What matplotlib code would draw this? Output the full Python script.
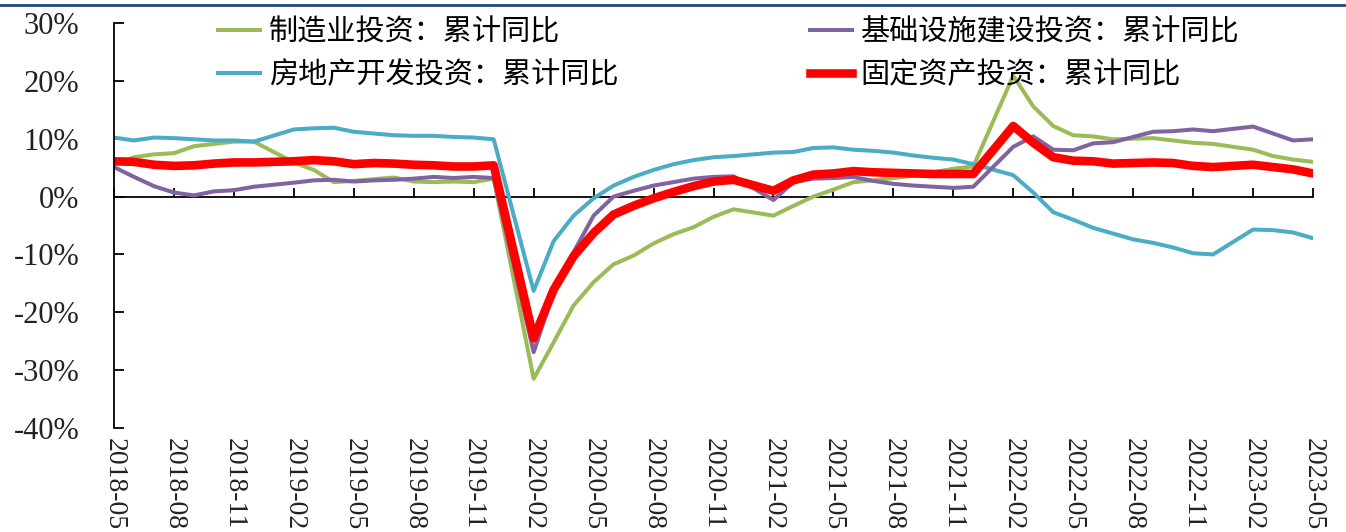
import matplotlib
matplotlib.use("Agg")
import matplotlib.pyplot as plt
from matplotlib.lines import Line2D
from matplotlib.ticker import FuncFormatter
import pandas as pd

# Monthly cumulative YoY growth (%), Jan is merged into Feb so it is skipped
START = pd.Period("2018-05", freq="M")
END = pd.Period("2023-05", freq="M")
months = [p for p in pd.period_range(START, END, freq="M") if p.month != 1]

manufacturing = [
    5.6, 6.8, 7.3, 7.5, 8.7, 9.1, 9.5, 9.5,
    5.9, 4.6, 2.5, 2.7, 3.0, 3.3, 2.6, 2.5, 2.6, 2.5, 3.1,
    -31.5, -25.2, -18.8, -14.8, -11.7, -10.2, -8.1, -6.5, -5.3, -3.5, -2.2,
    -3.3, -1.6, 0.0, 1.2, 2.5, 2.8, 3.2, 3.6, 4.2, 4.8, 5.2,
    20.9, 15.6, 12.2, 10.6, 10.4, 9.9, 10.0, 10.1, 9.7, 9.3, 9.1,
    8.1, 7.0, 6.4, 6.0,
]
infrastructure = [
    5.1, 3.4, 1.8, 0.7, 0.2, 0.9, 1.1, 1.7,
    2.4, 2.8, 2.9, 2.6, 2.8, 2.9, 3.1, 3.4, 3.2, 3.4, 3.2,
    -26.9, -16.5, -9.6, -3.3, 0.0, 1.0, 1.9, 2.5, 3.1, 3.4, 3.5,
    -0.6, 2.5, 3.1, 3.2, 3.4, 2.7, 2.2, 1.9, 1.7, 1.5, 1.7,
    8.6, 10.4, 8.1, 8.0, 9.2, 9.4, 10.3, 11.2, 11.3, 11.6, 11.3,
    12.1, 10.9, 9.7, 9.9,
]
real_estate = [
    10.2, 9.7, 10.2, 10.1, 9.9, 9.7, 9.7, 9.5,
    11.6, 11.8, 11.9, 11.2, 10.9, 10.6, 10.5, 10.5, 10.3, 10.2, 9.9,
    -16.3, -7.7, -3.3, -0.3, 1.9, 3.4, 4.6, 5.6, 6.3, 6.8, 7.0,
    7.6, 7.7, 8.4, 8.5, 8.1, 7.9, 7.6, 7.1, 6.7, 6.4, 5.6,
    3.7, 0.7, -2.7, -4.0, -5.4, -6.4, -7.4, -8.0, -8.8, -9.8, -10.0,
    -5.7, -5.8, -6.2, -7.2,
]
fixed_assets = [
    6.1, 6.0, 5.5, 5.3, 5.4, 5.7, 5.9, 5.9,
    6.1, 6.3, 6.1, 5.6, 5.8, 5.7, 5.5, 5.4, 5.2, 5.2, 5.4,
    -24.5, -16.1, -10.3, -6.3, -3.1, -1.6, -0.3, 0.8, 1.8, 2.6, 2.9,
    1.0, 2.8, 3.8, 4.0, 4.4, 4.2, 4.1, 4.0, 3.9, 3.9, 3.9,
    12.2, 9.3, 6.8, 6.2, 6.1, 5.7, 5.8, 5.9, 5.8, 5.3, 5.1,
    5.5, 5.1, 4.7, 4.0,
]

labels = ["制造业投资：累计同比", "房地产开发投资：累计同比",
          "基础设施建设投资：累计同比", "固定资产投资：累计同比"]
y_ticks = [-40, -30, -20, -10, 0, 10, 20, 30]

x = [(p - START).n for p in months]
x_ticks = list(range(0, (END - START).n + 1, 3))
x_tick_labels = [(START + i).strftime("%Y-%m") for i in x_ticks]

W, H = 1346, 532
fig = plt.figure(figsize=(W / 100, H / 100), dpi=100)
ax = fig.add_axes([114 / W, 1 - 428 / H, 1199 / W, 405 / H])

ax.plot(x, manufacturing, color="#9BBB59", lw=2.9, label=labels[0])
ax.plot(x, real_estate, color="#4BACC6", lw=2.9, label=labels[1])
ax.plot(x, infrastructure, color="#8064A2", lw=2.9, label=labels[2])
ax.plot(x, fixed_assets, color="#FF0000", lw=6.2, label=labels[3])

ax.set_xlim(0, x_ticks[-1])
ax.set_ylim(-40, 30)
for s in ("top", "right", "bottom"):
    ax.spines[s].set_visible(False)
ax.spines["left"].set_linewidth(1.3)

serif = "Liberation Serif"
ax.set_yticks(y_ticks)
ax.yaxis.set_major_formatter(FuncFormatter(lambda v, _: f"{v:.0f}%"))
ax.tick_params(axis="y", direction="in", length=7, width=1.3, pad=25)
for t in ax.get_yticklabels():
    t.set_fontfamily(serif)
    t.set_fontsize(22)
    t.set_color("#222222")

ax.set_xticks(x_ticks)
ax.set_xticklabels(x_tick_labels, rotation=-90, fontfamily=serif, fontsize=20,
                   color="#222222", va="top", ha="center")
ax.tick_params(axis="x", length=0, pad=7)

# zero line with its own tick marks
zero = ax.secondary_xaxis(40 / 70)
zero.set_xticks(x_ticks)
zero.tick_params(direction="out", length=6.5, width=1.3, labeltop=False,
                 labelbottom=False)
for s in zero.spines.values():
    s.set_linewidth(1.3)

ax.legend(ncol=2, loc="upper left", bbox_to_anchor=(218 / W, 1 - 17 / H),
          bbox_transform=fig.transFigure, frameon=False, borderpad=0,
          borderaxespad=0, handlelength=1.45, handletextpad=0.3,
          labelspacing=0.45, columnspacing=6.55,
          prop={"family": ["Noto Sans CJK SC", "DejaVu Sans"], "size": 21})

# dark blue rule along the top edge
fig.add_artist(Line2D([0, 1], [1 - 5 / H, 1 - 5 / H], transform=fig.transFigure,
                      color="#1F497D", lw=2))

fig.savefig("out.png", dpi=100)
